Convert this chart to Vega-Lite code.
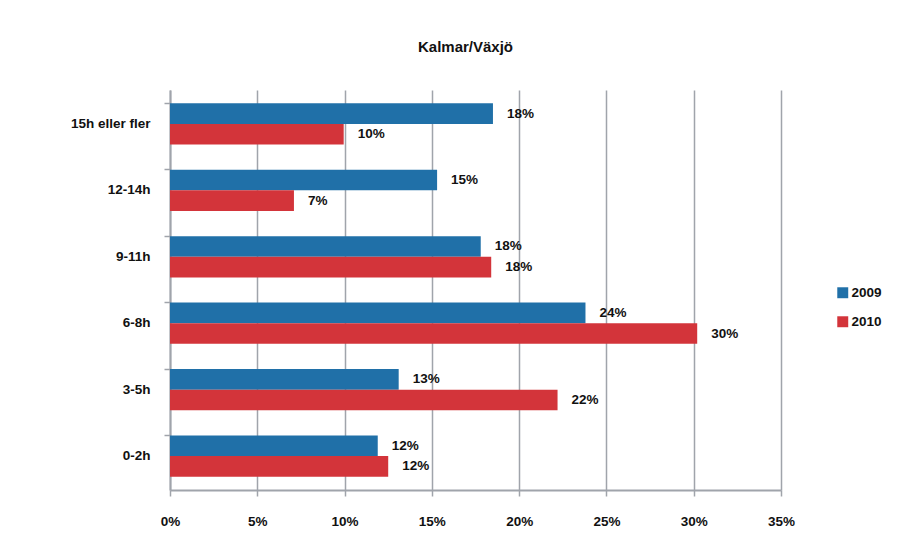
{
  "$schema": "https://vega.github.io/schema/vega-lite/v6.json",
  "width": 611,
  "height": 400,
  "autosize": "none",
  "padding": {"left": 170, "top": 90, "right": 134, "bottom": 68},
  "background": "white",
  "title": {
    "text": "Kalmar/Växjö",
    "font": "Liberation Sans",
    "fontSize": 15,
    "fontWeight": "bold",
    "color": "#111111",
    "anchor": "middle",
    "offset": 35,
    "dx": -10
  },
  "data": {
    "values": [
      {"cat": "15h eller fler", "year": "2009", "value": 18.5, "label": "18%"},
      {"cat": "15h eller fler", "year": "2010", "value": 9.95, "label": "10%"},
      {"cat": "12-14h", "year": "2009", "value": 15.3, "label": "15%"},
      {"cat": "12-14h", "year": "2010", "value": 7.1, "label": "7%"},
      {"cat": "9-11h", "year": "2009", "value": 17.8, "label": "18%"},
      {"cat": "9-11h", "year": "2010", "value": 18.4, "label": "18%"},
      {"cat": "6-8h", "year": "2009", "value": 23.8, "label": "24%"},
      {"cat": "6-8h", "year": "2010", "value": 30.2, "label": "30%"},
      {"cat": "3-5h", "year": "2009", "value": 13.1, "label": "13%"},
      {"cat": "3-5h", "year": "2010", "value": 22.2, "label": "22%"},
      {"cat": "0-2h", "year": "2009", "value": 11.9, "label": "12%"},
      {"cat": "0-2h", "year": "2010", "value": 12.5, "label": "12%"}
    ]
  },
  "encoding": {
    "y": {
      "field": "cat",
      "type": "nominal",
      "sort": ["15h eller fler", "12-14h", "9-11h", "6-8h", "3-5h", "0-2h"],
      "scale": {"paddingInner": 0.38, "paddingOuter": 0.2},
      "axis": {
        "title": null,
        "labelFont": "Liberation Sans",
        "labelFontSize": 13.5,
        "labelFontWeight": "bold",
        "labelColor": "#111111",
        "labelPadding": 14,
        "domainColor": "#a0a4ab",
        "domainWidth": 2,
        "tickColor": "#a0a4ab",
        "tickWidth": 1.5,
        "tickSize": 6,
        "bandPosition": 0,
        "grid": false
      }
    },
    "yOffset": {"field": "year", "type": "nominal", "sort": ["2009", "2010"]},
    "x": {
      "field": "value",
      "type": "quantitative",
      "scale": {"domain": [0, 35], "nice": false},
      "axis": {
        "title": null,
        "values": [0, 5, 10, 15, 20, 25, 30, 35],
        "labelExpr": "datum.value + '%'",
        "labelFlush": false,
        "labelFont": "Liberation Sans",
        "labelFontSize": 13.5,
        "labelFontWeight": "bold",
        "labelColor": "#111111",
        "labelPadding": 18,
        "domainColor": "#a0a4ab",
        "domainWidth": 2,
        "tickColor": "#a0a4ab",
        "tickWidth": 1.5,
        "tickSize": 6,
        "grid": true,
        "gridColor": "#a0a4ab",
        "gridWidth": 1.5
      }
    }
  },
  "layer": [
    {
      "mark": {"type": "bar"},
      "encoding": {
        "color": {
          "field": "year",
          "type": "nominal",
          "scale": {"domain": ["2009", "2010"], "range": ["#2070a8", "#d3343a"]},
          "legend": {
            "title": null,
            "orient": "none",
            "legendX": 666,
            "legendY": 196,
            "symbolType": "square",
            "symbolSize": 120,
            "symbolStrokeWidth": 0,
            "rowPadding": 14,
            "labelOffset": 2,
            "labelFont": "Liberation Sans",
            "labelFontSize": 13.5,
            "labelFontWeight": "bold",
            "labelColor": "#111111"
          }
        }
      }
    },
    {
      "mark": {
        "type": "text",
        "align": "left",
        "baseline": "middle",
        "dx": 14,
        "font": "Liberation Sans",
        "fontSize": 13.5,
        "fontWeight": "bold",
        "color": "#111111"
      },
      "encoding": {"text": {"field": "label"}}
    }
  ],
  "config": {"view": {"stroke": null}}
}
